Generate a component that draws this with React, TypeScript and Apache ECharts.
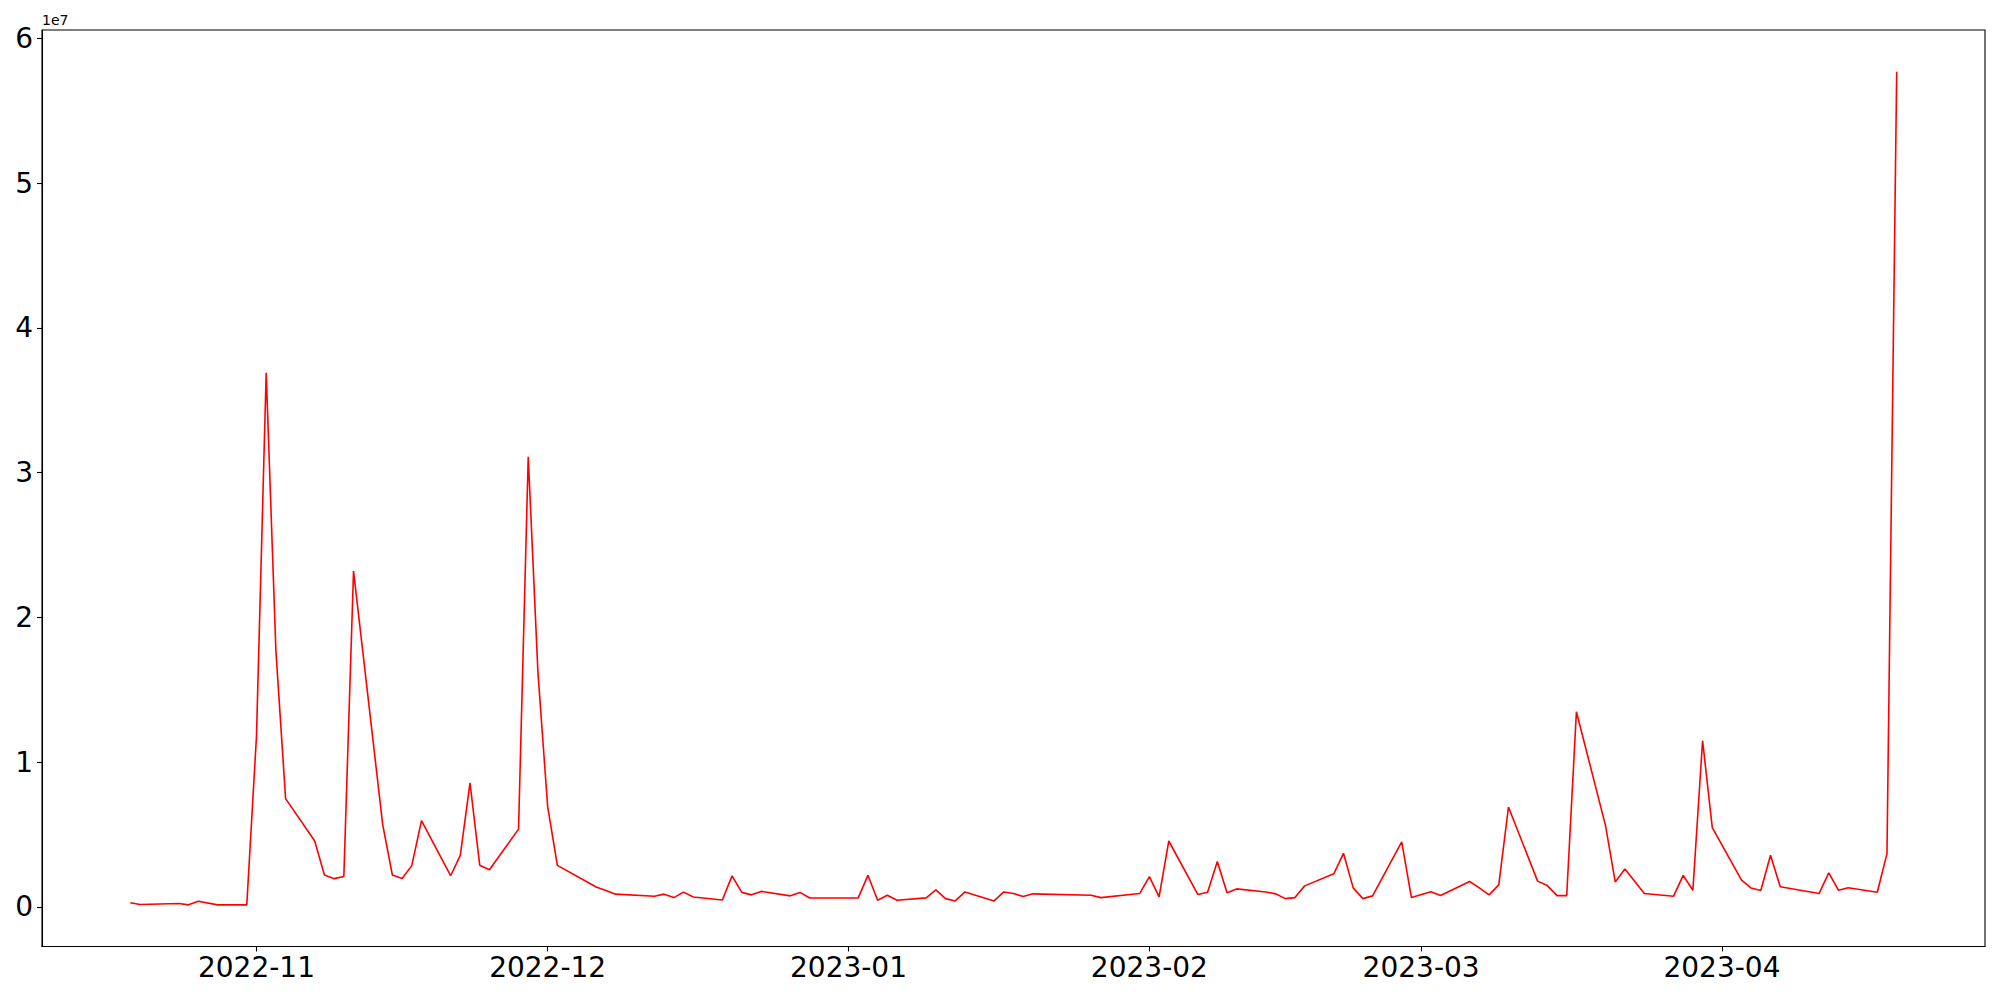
import React, { useEffect, useRef } from "react";
import * as echarts from "echarts";

const dates: string[] = [
  "2022-10-19", "2022-10-20", "2022-10-24", "2022-10-25", "2022-10-26", "2022-10-28", "2022-10-31",
  "2022-11-01", "2022-11-02", "2022-11-03", "2022-11-04", "2022-11-07", "2022-11-08", "2022-11-09",
  "2022-11-10", "2022-11-11", "2022-11-14", "2022-11-15", "2022-11-16", "2022-11-17", "2022-11-18",
  "2022-11-21", "2022-11-22", "2022-11-23", "2022-11-24", "2022-11-25", "2022-11-28", "2022-11-29",
  "2022-11-30", "2022-12-01", "2022-12-02", "2022-12-06", "2022-12-07", "2022-12-08", "2022-12-12",
  "2022-12-13", "2022-12-14", "2022-12-15", "2022-12-16", "2022-12-19", "2022-12-20", "2022-12-21",
  "2022-12-22", "2022-12-23", "2022-12-26", "2022-12-27", "2022-12-28", "2023-01-02", "2023-01-03",
  "2023-01-04", "2023-01-05", "2023-01-06", "2023-01-09", "2023-01-10", "2023-01-11", "2023-01-12",
  "2023-01-13", "2023-01-16", "2023-01-17", "2023-01-18", "2023-01-19", "2023-01-20", "2023-01-26",
  "2023-01-27", "2023-01-31", "2023-02-01", "2023-02-02", "2023-02-03", "2023-02-06", "2023-02-07",
  "2023-02-08", "2023-02-09", "2023-02-10", "2023-02-13", "2023-02-14", "2023-02-15", "2023-02-16",
  "2023-02-17", "2023-02-20", "2023-02-21", "2023-02-22", "2023-02-23", "2023-02-24", "2023-02-27",
  "2023-02-28", "2023-03-02", "2023-03-03", "2023-03-06", "2023-03-07", "2023-03-08", "2023-03-09",
  "2023-03-10", "2023-03-13", "2023-03-14", "2023-03-15", "2023-03-16", "2023-03-17", "2023-03-20",
  "2023-03-21", "2023-03-22", "2023-03-24", "2023-03-27", "2023-03-28", "2023-03-29", "2023-03-30",
  "2023-03-31", "2023-04-03", "2023-04-04", "2023-04-05", "2023-04-06", "2023-04-07", "2023-04-11",
  "2023-04-12", "2023-04-13", "2023-04-14", "2023-04-17", "2023-04-18", "2023-04-19",
];

const values: number[] = [
  280000, 160000, 230000, 140000, 390000, 140000, 140000,
  11800000, 36900000, 17700000, 7480000, 4550000, 2200000, 1950000,
  2100000, 23200000, 5700000, 2200000, 1960000, 2850000, 5950000,
  2150000, 3560000, 8560000, 2880000, 2560000, 5370000, 31100000,
  16200000, 6930000, 2870000, 1370000, 1130000, 880000, 730000,
  880000, 640000, 1020000, 680000, 470000, 2140000, 1000000,
  830000, 1070000, 760000, 1000000, 610000, 620000, 2180000,
  460000, 800000, 460000, 620000, 1170000, 570000, 410000,
  1030000, 410000, 1030000, 920000, 710000, 900000, 800000,
  640000, 920000, 2090000, 690000, 4550000, 850000, 1010000,
  3130000, 970000, 1240000, 1030000, 900000, 570000, 640000,
  1450000, 2280000, 3700000, 1310000, 570000, 760000, 4490000,
  640000, 1040000, 780000, 1750000, 1310000, 830000, 1520000,
  6900000, 1780000, 1470000, 780000, 780000, 13480000, 5610000,
  1720000, 2620000, 920000, 730000, 2180000, 1150000, 11480000,
  5480000, 1870000, 1300000, 1130000, 3570000, 1390000, 920000,
  2350000, 1150000, 1320000, 1010000, 3680000, 57700000,
];

const xTickDates: string[] = ["2022-11-01", "2022-12-01", "2023-01-01", "2023-02-01", "2023-03-01", "2023-04-01"];
const yTickValues: number[] = [0, 10000000, 20000000, 30000000, 40000000, 50000000, 60000000];
const offsetLabel = "1e7";

function ts(s: string): number {
  const [y, m, d] = s.split("-").map(Number);
  return Date.UTC(y, m - 1, d);
}

export default function App() {
  const ref = useRef<HTMLDivElement>(null);

  useEffect(() => {
    if (!ref.current) return;
    const chart = echarts.init(ref.current, undefined, { renderer: "svg" });

    const xs = dates.map(ts);
    const xMinD = Math.min(...xs);
    const xMaxD = Math.max(...xs);
    const xr = xMaxD - xMinD;
    const yMinD = Math.min(...values);
    const yMaxD = Math.max(...values);
    const yr = yMaxD - yMinD;

    const xTicks = xTickDates.map(ts);
    const font = "DejaVu Sans";

    chart.setOption({
      animation: false,
      backgroundColor: "#ffffff",
      grid: {
        left: 42,
        right: 15,
        top: 30,
        bottom: 53.5,
        show: true,
        borderColor: "#000000",
        borderWidth: 1.1,
        containLabel: false,
        outerBoundsMode: "none",
      },
      xAxis: {
        type: "value",
        min: xMinD - 0.05 * xr,
        max: xMaxD + 0.05 * xr,
        axisLine: { show: true, onZero: false, lineStyle: { color: "#000", width: 1.1 } },
        axisTick: { show: true, length: 5, inside: false, lineStyle: { color: "#000", width: 1.1 }, customValues: xTicks },
        axisLabel: {
          customValues: xTicks,
          formatter: (v: number) => {
            const d = new Date(v);
            return `${d.getUTCFullYear()}-${String(d.getUTCMonth() + 1).padStart(2, "0")}`;
          },
          fontSize: 28,
          fontFamily: font,
          color: "#000",
          margin: 7,
          hideOverlap: false,
        },
        splitLine: { show: false },
        minorTick: { show: false },
      },
      yAxis: {
        type: "value",
        min: yMinD - 0.05 * yr,
        max: yMaxD + 0.05 * yr,
        axisLine: { show: true, onZero: false, lineStyle: { color: "#000", width: 1.1 } },
        axisTick: { show: true, length: 5, inside: false, lineStyle: { color: "#000", width: 1.1 }, customValues: yTickValues },
        axisLabel: {
          customValues: yTickValues,
          formatter: (v: number) => String(Math.round(v / 1e7)),
          fontSize: 28,
          fontFamily: font,
          color: "#000",
          margin: 9,
          hideOverlap: false,
        },
        splitLine: { show: false },
      },
      series: [
        {
          type: "line",
          data: xs.map((x, i) => [x, values[i]]),
          showSymbol: false,
          symbol: "none",
          lineStyle: { color: "#ff0000", width: 1.6 },
          itemStyle: { color: "#ff0000" },
        },
      ],
      graphic: [
        {
          type: "text",
          left: 42,
          top: 13,
          style: { text: offsetLabel, font: `14px "${font}"`, fill: "#000" },
        },
      ],
    });

    return () => chart.dispose();
  }, []);

  return (
    <div
      ref={ref}
      style={{ position: "fixed", left: 0, top: 0, width: 2000, height: 1000 }}
    />
  );
}
